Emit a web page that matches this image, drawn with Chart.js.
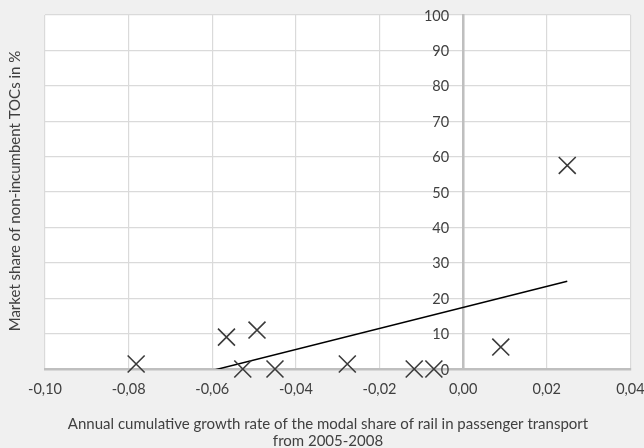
<!DOCTYPE html>
<html>
<head>
<meta charset="utf-8">
<style>
  html, body { margin: 0; padding: 0; background: #f0f0f0; }
  #wrap { width: 644px; height: 448px; }
</style>
<script src="https://cdn.jsdelivr.net/npm/chart.js@4/dist/chart.umd.min.js"></script>
</head>
<body>
<div id="wrap"><canvas id="chart" width="644" height="448"></canvas></div>
<script>
// Annual cumulative growth rate of rail's modal share (2005-2008) per country
const growthRate = [-0.0782, -0.0566, -0.0493, -0.0527, -0.0450, -0.0277, -0.0117, -0.0070, 0.0090, 0.0249];
// Market share of non-incumbent train operating companies, in %
const marketShare = [1.4, 9.0, 11.0, 0.0, 0.0, 1.4, 0.0, 0.0, 6.2, 57.5];

const xTickValues = [-0.10, -0.08, -0.06, -0.04, -0.02, 0.00, 0.02, 0.04];
const xTickLabels = ['-0,10', '-0,08', '-0,06', '-0,04', '-0,02', '0,00', '0,02', '0,04'];
const yTickValues = [0, 10, 20, 30, 40, 50, 60, 70, 80, 90, 100];
const yTickLabels = ['0', '10', '20', '30', '40', '50', '60', '70', '80', '90', '100'];

const xTitleLines = ['Annual cumulative growth rate of the modal share of rail in passenger transport', 'from 2005-2008'];
const yTitle = 'Market share of non-incumbent TOCs in %';

const FONT = 'Lato';
const TEXT = '#404040';

// least-squares trend line over the observed range
function linearFit(xs, ys) {
  const n = xs.length;
  const mx = xs.reduce((a, b) => a + b, 0) / n;
  const my = ys.reduce((a, b) => a + b, 0) / n;
  let sxy = 0, sxx = 0;
  for (let i = 0; i < n; i++) {
    sxy += (xs[i] - mx) * (ys[i] - my);
    sxx += (xs[i] - mx) * (xs[i] - mx);
  }
  const slope = sxy / sxx;
  return { slope, intercept: my - slope * mx };
}
const fit = linearFit(growthRate, marketShare);
const xMin = Math.min(...growthRate), xMax = Math.max(...growthRate);
const trendPoints = [xMin, xMax].map(x => ({ x, y: fit.intercept + fit.slope * x }));

const points = growthRate.map((x, i) => ({ x, y: marketShare[i] }));

const backdrop = {
  id: 'backdrop',
  beforeDraw(chart) {
    const { ctx, chartArea: a } = chart;
    ctx.save();
    ctx.fillStyle = '#f0f0f0';
    ctx.fillRect(0, 0, chart.width, chart.height);
    ctx.fillStyle = '#ffffff';
    ctx.fillRect(a.left, a.top, a.right - a.left, a.bottom - a.top);
    ctx.restore();
  }
};

// y tick labels sit just left of the vertical axis that crosses at x = 0
const crossingLabels = {
  id: 'crossingLabels',
  afterDraw(chart) {
    const { ctx, scales: { x, y } } = chart;
    const ax = x.getPixelForValue(0);
    ctx.save();
    ctx.fillStyle = TEXT;
    ctx.font = '14.5px ' + FONT;
    ctx.textAlign = 'right';
    ctx.textBaseline = 'middle';
    yTickValues.forEach((v, i) => {
      ctx.fillText(yTickLabels[i], ax - 14, y.getPixelForValue(v) + 1);
    });
    ctx.restore();
  }
};

const axisTitles = {
  id: 'axisTitles',
  afterDraw(chart) {
    const { ctx } = chart;
    ctx.save();
    ctx.fillStyle = TEXT;
    ctx.font = '15px ' + FONT;
    ctx.textAlign = 'center';
    ctx.textBaseline = 'middle';
    ctx.fillText(xTitleLines[0], 328, 424);
    ctx.fillText(xTitleLines[1], 328, 441);
    ctx.translate(15, 191);
    ctx.rotate(-Math.PI / 2);
    ctx.fillText(yTitle, 0, 0);
    ctx.restore();
  }
};

new Chart(document.getElementById('chart'), {
  type: 'scatter',
  data: {
    datasets: [
      {
        label: 'Countries',
        data: points,
        pointStyle: 'crossRot',
        pointRadius: 12,
        pointHoverRadius: 12,
        borderColor: '#3a3a3a',
        pointBorderWidth: 1.6,
        backgroundColor: '#3a3a3a',
        clip: false,
        order: 0
      },
      {
        label: 'Linear trend',
        type: 'line',
        data: trendPoints,
        showLine: true,
        borderColor: '#000000',
        borderWidth: 1.5,
        pointRadius: 0,
        fill: false,
        order: 1
      }
    ]
  },
  options: {
    responsive: false,
    animation: false,
    devicePixelRatio: 1,
    layout: { padding: { left: 45, right: 12, top: 15, bottom: 0 } },
    plugins: {
      legend: { display: false },
      tooltip: { enabled: false },
      title: { display: false }
    },
    scales: {
      x: {
        type: 'linear',
        min: -0.10,
        max: 0.04,
        afterBuildTicks(scale) {
          scale.ticks = xTickValues.map(v => ({ value: v }));
        },
        afterFit(scale) {
          scale.paddingLeft = 0;
          scale.paddingRight = 0;
          scale.height = 79;
        },
        ticks: {
          maxRotation: 0,
          autoSkip: false,
          padding: 12,
          color: TEXT,
          font: { family: FONT, size: 14.5 },
          callback: (v, i) => xTickLabels[i]
        },
        grid: { color: '#dadada', lineWidth: 1.2, drawTicks: false },
        border: { color: '#bfbfbf', width: 2.5 }
      },
      y: {
        type: 'linear',
        position: { x: 0 },
        min: 0,
        max: 100,
        afterBuildTicks(scale) {
          scale.ticks = yTickValues.map(v => ({ value: v }));
        },
        ticks: { display: false },
        grid: { color: '#dadada', lineWidth: 1.2, drawTicks: false },
        border: { color: '#bfbfbf', width: 2.5 }
      }
    }
  },
  plugins: [backdrop, crossingLabels, axisTitles]
});
</script>
</body>
</html>
